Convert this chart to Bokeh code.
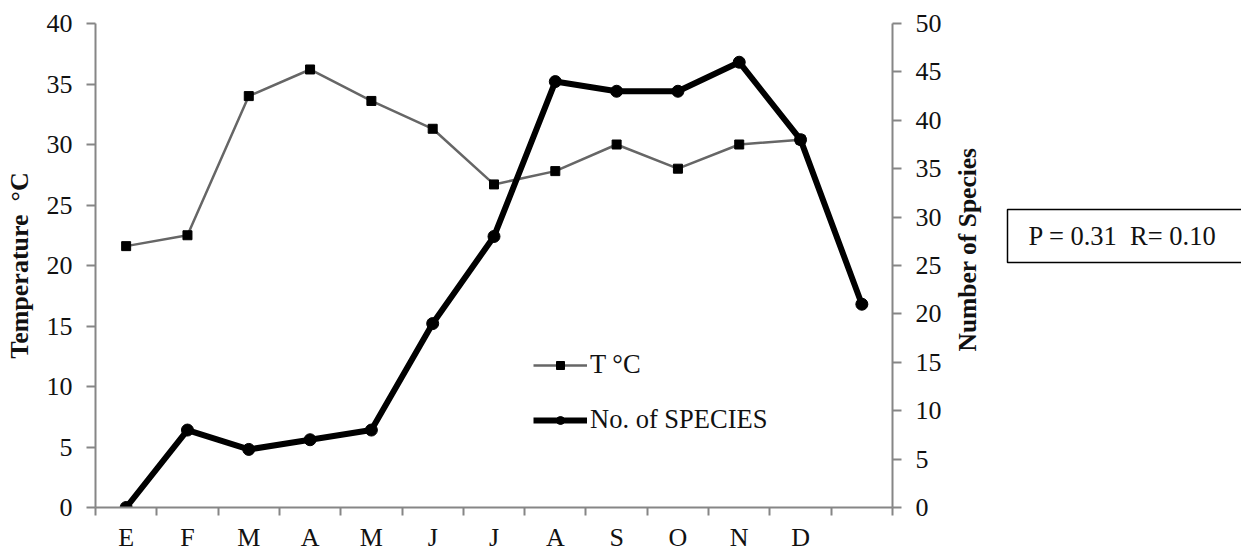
import math
from bokeh.plotting import figure
from bokeh.layouts import row
from bokeh.models import (Range1d, LinearAxis, FixedTicker, Legend, LegendItem, Label,
                          BoxAnnotation)
from bokeh.embed import file_html
from bokeh.resources import INLINE

months = ["E", "F", "M", "A", "M", "J", "J", "A", "S", "O", "N", "D"]
temperature = [21.6, 22.5, 34.0, 36.2, 33.6, 31.3, 26.7, 27.8, 30.0, 28.0, 30.0, 30.4]
species = [0, 8, 6, 7, 8, 19, 28, 44, 43, 43, 46, 38, 21]
left_ticks = [0, 5, 10, 15, 20, 25, 30, 35, 40]
right_ticks = [0, 5, 10, 15, 20, 25, 30, 35, 40, 45, 50]
stats_text = "P = 0.31\u00a0 R= 0.10"
right_title = "Number of Species"

FONT = "Liberation Serif"
FS = "26px"
AXIS_COLOR = "#868686"
H = 554
MAIN_W = 950
TOP, BOTTOM = 23, 47

n = len(species)
xs_t = list(range(1, len(temperature) + 1))
xs_s = list(range(1, n + 1))

p = figure(width=MAIN_W, height=H, output_backend="svg", toolbar_location=None,
           x_range=Range1d(0.5, n + 0.5), y_range=Range1d(left_ticks[0], left_ticks[-1]),
           min_border_left=95, min_border_right=MAIN_W - 892, min_border_top=TOP,
           min_border_bottom=BOTTOM, x_axis_type=None, y_axis_type=None)
p.outline_line_color = None
p.xgrid.visible = False
p.ygrid.visible = False
p.background_fill_color = "white"
p.border_fill_color = "white"

p.extra_y_ranges = {"species": Range1d(right_ticks[0], right_ticks[-1])}

# x axis
xaxis = LinearAxis(ticker=FixedTicker(ticks=xs_t, minor_ticks=[i + 0.5 for i in range(0, n + 1)]))
xaxis.major_label_overrides = {i + 1: m for i, m in enumerate(months)}
xaxis.major_tick_out = 0
xaxis.major_tick_in = 0
xaxis.minor_tick_out = 8
xaxis.minor_tick_in = 0
xaxis.minor_tick_line_color = AXIS_COLOR
xaxis.minor_tick_line_width = 2
xaxis.axis_line_color = AXIS_COLOR
xaxis.axis_line_width = 2
xaxis.major_label_standoff = 7
xaxis.major_label_text_font = FONT
xaxis.major_label_text_font_size = FS
xaxis.major_label_text_color = "#111111"
p.add_layout(xaxis, "below")

def style_y(ax):
    ax.major_tick_out = 9
    ax.major_tick_in = 0
    ax.minor_tick_out = 0
    ax.minor_tick_in = 0
    ax.major_tick_line_color = AXIS_COLOR
    ax.major_tick_line_width = 2
    ax.axis_line_color = AXIS_COLOR
    ax.axis_line_width = 2
    ax.major_label_standoff = 14
    ax.major_label_text_font = FONT
    ax.major_label_text_font_size = FS
    ax.major_label_text_color = "#111111"
    ax.axis_label_text_font = FONT
    ax.axis_label_text_font_size = FS
    ax.axis_label_text_font_style = "bold"
    ax.axis_label_text_color = "#111111"

yleft = LinearAxis(ticker=FixedTicker(ticks=left_ticks), axis_label="Temperature\u00a0 °C")
style_y(yleft)
yleft.axis_label_standoff = 10
p.add_layout(yleft, "left")

yright = LinearAxis(y_range_name="species", ticker=FixedTicker(ticks=right_ticks))
style_y(yright)
p.add_layout(yright, "right")

# series
t_line = p.line(xs_t, temperature, line_color="#666666", line_width=2.5)
t_mark = p.scatter(xs_t, temperature, marker="square", size=9, fill_color="black",
                   line_color="black")
s_line = p.line(xs_s, species, y_range_name="species", line_color="black", line_width=6)
s_mark = p.scatter(xs_s, species, y_range_name="species", marker="circle", size=12,
                   fill_color="black", line_color="black")

legend = Legend(items=[LegendItem(label="T °C", renderers=[t_line, t_mark]),
                       LegendItem(label="No. of SPECIES", renderers=[s_line, s_mark])],
                location=(438, 72))
legend.glyph_width = 54
legend.glyph_height = 20
legend.label_height = 20
legend.spacing = 24
legend.padding = 0
legend.margin = 0
legend.label_standoff = 3
legend.border_line_color = None
legend.background_fill_alpha = 0
legend.label_text_font = FONT
legend.label_text_font_size = "26.5px"
legend.label_text_color = "#111111"
p.add_layout(legend, "center")

# side panel: right axis title and statistics box (page-pixel data coordinates;
# the row aligns this panel's frame with the main frame, 23..507 px)
PW = 1241 - MAIN_W
p2 = figure(width=PW, height=H, output_backend="svg", toolbar_location=None,
            x_range=Range1d(0, PW), y_range=Range1d(BOTTOM, H - TOP),
            min_border=0, x_axis_type=None, y_axis_type=None)
p2.outline_line_color = None
p2.xgrid.visible = False
p2.ygrid.visible = False
p2.border_fill_color = "white"
p2.background_fill_color = "white"

title_r = Label(x=967 - MAIN_W, y=H - 249, text=right_title, angle=math.pi / 2,
                text_font=FONT, text_font_size="25.5px", text_font_style="bold",
                text_color="#111111", text_align="center", text_baseline="middle")
p2.add_layout(title_r)

box = BoxAnnotation(left=1007 - MAIN_W, right=PW + 40, bottom=H - 262, top=H - 209,
                    fill_color="white", fill_alpha=1, line_color="black", line_alpha=1,
                    line_width=1.5)
p2.add_layout(box)
stats = Label(x=1028 - MAIN_W, y=H - 235.5, text=stats_text,
              text_font=FONT, text_font_size="26.5px", text_color="#111111",
              text_align="left", text_baseline="middle")
p2.add_layout(stats)

layout = row(p, p2)
open("out.html", "w").write(file_html(layout, INLINE))
